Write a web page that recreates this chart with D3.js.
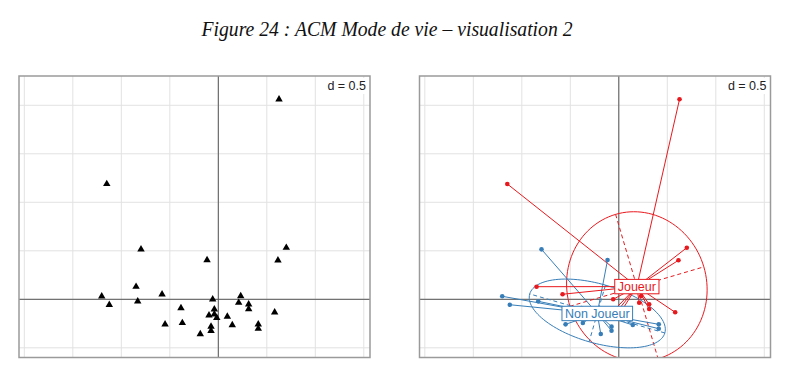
<!DOCTYPE html>
<html><head><meta charset="utf-8">
<script src="https://cdn.jsdelivr.net/npm/d3@7"></script>
<style>body{margin:0;background:#fff}</style>
</head><body><svg id="c" width="789" height="376"></svg>
<script>
// ---- data ----
const pointX = [0.626,-1.150,-0.797,-0.116,0.701,0.615,-0.848,-1.202,-1.124,-0.831,-0.580,-0.058,0.231,0.210,0.313,0.313,-0.385,-0.041,-0.096,-0.041,-0.016,0.093,0.581,-0.549,-0.371,0.144,0.412,0.412,-0.075,-0.075,-0.186];
const pointY = [2.062,1.189,0.515,0.405,0.532,0.402,0.130,0.031,-0.056,-0.021,0.052,0.000,0.034,-0.035,-0.052,-0.100,-0.090,-0.103,-0.165,-0.155,-0.190,-0.179,-0.134,-0.258,-0.244,-0.265,-0.258,-0.303,-0.282,-0.324,-0.358];
const pointGroup = ["Joueur","Joueur","Non Joueur","Non Joueur","Joueur","Joueur","Joueur","Non Joueur","Non Joueur","Non Joueur","Joueur","Joueur","Joueur","Joueur","Joueur","Joueur","Non Joueur","Joueur","Non Joueur","Joueur","Joueur","Non Joueur","Joueur","Non Joueur","Non Joueur","Non Joueur","Non Joueur","Non Joueur","Non Joueur","Non Joueur","Non Joueur"];
const groups = ["Joueur","Non Joueur"];
const groupCenterX = [0.186,-0.222];
const groupCenterY = [0.131,-0.146];
const ellipseA = [0.776,0.725];
const ellipseB = [0.720,0.304];
const ellipseAngle = [106.4,-16.1];
const groupColors = ["#E8191E","#377EB8"];
const xTicks = [-2,-1.5,-1,-0.5,0,0.5,1,1.5];
const yTicks = [-0.5,0,0.5,1,1.5,2];
const gridLabel = "d = 0.5";
const titleText = "Figure 24 : ACM Mode de vie – visualisation 2";

// ---- layout ----
const svg = d3.select("#c");
svg.append("rect").attr("width",789).attr("height",376).attr("fill","#fff");
const defs = svg.append("defs");
const PW = 351, PH = 281.5;
const x = d3.scaleLinear().domain([-2.055,1.564]).range([0,PW]);
const y = d3.scaleLinear().domain([-0.6,2.302]).range([PH,0]);

svg.append("text").attr("x",387).attr("y",36).attr("text-anchor","middle")
  .attr("font-family","'Liberation Serif','Times New Roman',serif").attr("font-style","italic")
  .attr("font-size",20).attr("fill","#111").attr("textLength",371).attr("lengthAdjust","spacingAndGlyphs")
  .text(titleText);

function panel(px, py, id, drawContent){
  const g = svg.append("g").attr("transform",`translate(${px},${py})`);
  defs.append("clipPath").attr("id",id).append("rect").attr("width",PW).attr("height",PH);
  const inner = g.append("g").attr("clip-path",`url(#${id})`);
  inner.selectAll(".gx").data(xTicks).join("line")
    .attr("x1",d=>x(d)).attr("x2",d=>x(d)).attr("y1",0).attr("y2",PH)
    .attr("stroke","#e2e2e2").attr("stroke-width",1);
  inner.selectAll(".gy").data(yTicks).join("line")
    .attr("y1",d=>y(d)).attr("y2",d=>y(d)).attr("x1",0).attr("x2",PW)
    .attr("stroke","#e2e2e2").attr("stroke-width",1);
  inner.append("line").attr("x1",x(0)).attr("x2",x(0)).attr("y1",0).attr("y2",PH).attr("stroke","#555").attr("stroke-width",1);
  inner.append("line").attr("y1",y(0)).attr("y2",y(0)).attr("x1",0).attr("x2",PW).attr("stroke","#555").attr("stroke-width",1);
  drawContent(inner);
  // d label with white background
  const lab = g.append("g");
  const bgRect = lab.append("rect").attr("fill","#fff");
  const t = lab.append("text").attr("x",PW-4).attr("y",14).attr("text-anchor","end")
    .attr("font-family","'Liberation Sans',Arial,sans-serif").attr("font-size",12.5).attr("fill","#222").text(gridLabel);
  const bb = t.node().getBBox();
  bgRect.attr("x",bb.x-2).attr("y",bb.y-1).attr("width",bb.width+4).attr("height",bb.height+2);
  g.append("rect").attr("width",PW).attr("height",PH).attr("fill","none").attr("stroke","#9a9a9a").attr("stroke-width",1.5);
}

const pts = pointX.map((v,i)=>({x:v,y:pointY[i],g:groups.indexOf(pointGroup[i])}));

panel(19,76,"clipL",inner=>{
  inner.selectAll(".tri").data(pts).join("path")
    .attr("transform",d=>`translate(${x(d.x)},${y(d.y)})`)
    .attr("d",d3.symbol(d3.symbolTriangle,24)).attr("fill","#000");
});

panel(419.5,76,"clipR",inner=>{
  const line = d3.line().x(d=>x(d[0])).y(d=>y(d[1]));
  groups.forEach((gname,gi)=>{
    const cx = groupCenterX[gi], cy = groupCenterY[gi];
    const a = ellipseA[gi], b = ellipseB[gi], th = ellipseAngle[gi]*Math.PI/180;
    const ring = d3.range(0,361,3).map(t=>{
      const r = t*Math.PI/180, ex = a*Math.cos(r), ey = b*Math.sin(r);
      return [cx+ex*Math.cos(th)-ey*Math.sin(th), cy+ex*Math.sin(th)+ey*Math.cos(th)];
    });
    inner.append("path").attr("d",line(ring)).attr("fill","none").attr("stroke",groupColors[gi]).attr("stroke-width",1);
    const ax1 = [[cx+a*Math.cos(th),cy+a*Math.sin(th)],[cx-a*Math.cos(th),cy-a*Math.sin(th)]];
    const ax2 = [[cx-b*Math.sin(th),cy+b*Math.cos(th)],[cx+b*Math.sin(th),cy-b*Math.cos(th)]];
    [ax1,ax2].forEach(s=>inner.append("path").attr("d",line(s)).attr("fill","none")
      .attr("stroke",groupColors[gi]).attr("stroke-width",1).attr("stroke-dasharray","4,3"));
  });
  inner.selectAll(".star").data(pts).join("line")
    .attr("x1",d=>x(d.x)).attr("y1",d=>y(d.y))
    .attr("x2",d=>x(groupCenterX[d.g])).attr("y2",d=>y(groupCenterY[d.g]))
    .attr("stroke",d=>groupColors[d.g]).attr("stroke-width",1);
  inner.selectAll(".pt").data(pts).join("circle")
    .attr("cx",d=>x(d.x)).attr("cy",d=>y(d.y)).attr("r",2.3).attr("fill",d=>groupColors[d.g]);
  groups.forEach((gname,gi)=>{
    const lg = inner.append("g");
    const r = lg.append("rect");
    const t = lg.append("text").attr("x",x(groupCenterX[gi])).attr("y",y(groupCenterY[gi])+4.5)
      .attr("text-anchor","middle").attr("font-family","'Liberation Sans',Arial,sans-serif")
      .attr("font-size",12.5).attr("fill",groupColors[gi]).text(gname);
    const bb = t.node().getBBox();
    r.attr("x",bb.x-3).attr("y",y(groupCenterY[gi])-7.2).attr("width",bb.width+6).attr("height",14.4)
      .attr("fill","#fff").attr("stroke",groupColors[gi]).attr("stroke-width",1);
  });
});
</script></body></html>
